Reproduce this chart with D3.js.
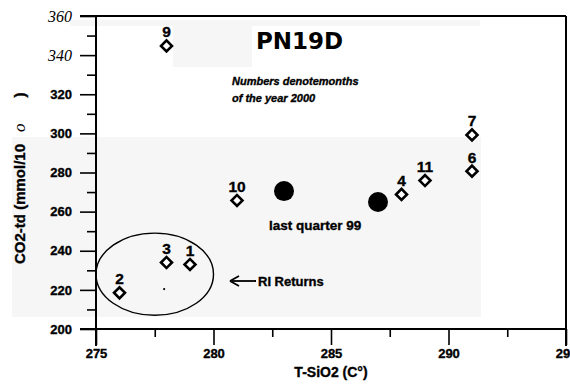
<!DOCTYPE html>
<html>
<head>
<meta charset="utf-8">
<script src="https://cdn.jsdelivr.net/npm/d3@7"></script>
<style>
  html, body { margin: 0; padding: 0; background: #fff; }
  svg { display: block; }
</style>
</head>
<body>
<script>
// Monthly samples of well PN19D in 2000 (month number, T-SiO2, CO2-td)
const months = ["1", "2", "3", "4", "6", "7", "9", "10", "11"];
const tSiO2  = [279, 276, 278, 288, 291, 291, 278, 281, 289];
const co2td  = [233, 218.5, 234, 268.8, 280.7, 299.2, 344.7, 265.7, 275.9];

// Last quarter of 1999
const q99TSiO2 = [283, 287];
const q99CO2   = [270.5, 264.9];

// Axis ticks
const xTicks = [275, 280, 285, 290, 295];
const xMinor = [277.5, 282.5, 287.5, 292.5];
const yTicks = [200, 220, 240, 260, 280, 300, 320, 340, 360];
const yMinor = [210, 230, 250, 270, 290, 310, 330, 350];

const W = 570, H = 389;
const SANS = "'Liberation Sans', Arial, sans-serif";
const SERIF = "'Liberation Serif', 'Times New Roman', serif";

const svg = d3.select("body").append("svg").attr("width", W).attr("height", H)
  .attr("font-family", SANS);

const x = d3.scaleLinear().domain([275, 295]).range([96, 566]);
const y = d3.scaleLinear().domain([200, 360]).range([329, 16]);

// heavier bold text
function heavy(sel) {
  return sel.attr("font-weight", "bold").attr("fill", "#000")
    .attr("stroke", "#000").attr("stroke-width", 0.35);
}

// faint grey paper tone behind parts of the plot
const tone = "#f6f6f6";
svg.append("rect").attr("x", 12).attr("y", 137).attr("width", 469).attr("height", 180).attr("fill", tone);
svg.append("rect").attr("x", 70).attr("y", 20).attr("width", 410).attr("height", 6).attr("fill", tone);
svg.append("rect").attr("x", 173).attr("y", 20).attr("width", 79).attr("height", 47).attr("fill", tone);

// Y axis: major ticks with labels, then minor ticks
const yAxis = svg.append("g").attr("transform", `translate(${x(275)},0)`)
  .call(d3.axisLeft(y).tickValues(yTicks).tickSize(16).tickPadding(8).tickFormat(d3.format("d")));
yAxis.select(".domain").remove();
yAxis.selectAll("line").attr("stroke", "#000").attr("stroke-width", 1.6);
heavy(yAxis.selectAll("text").attr("font-size", 13).attr("font-family", SANS));
yAxis.selectAll("text").filter(d => d >= 340)
  .attr("font-family", SERIF).attr("font-style", "italic").attr("font-weight", "normal")
  .attr("stroke", "none").attr("font-size", 16);

const yMin = svg.append("g").attr("transform", `translate(${x(275)},0)`)
  .call(d3.axisLeft(y).tickValues(yMinor).tickSize(9).tickFormat(""));
yMin.select(".domain").remove();
yMin.selectAll("line").attr("stroke", "#000").attr("stroke-width", 1.6);

// X axis
const xAxis = svg.append("g").attr("transform", `translate(0,${y(200)})`)
  .call(d3.axisBottom(x).tickValues(xTicks).tickSize(16).tickPadding(4).tickFormat(d3.format("d")));
xAxis.select(".domain").remove();
xAxis.selectAll("line").attr("stroke", "#000").attr("stroke-width", 1.6);
heavy(xAxis.selectAll("text").attr("font-size", 13).attr("font-family", SANS));

const xMin = svg.append("g").attr("transform", `translate(0,${y(200)})`)
  .call(d3.axisBottom(x).tickValues(xMinor).tickSize(8).tickFormat(""));
xMin.select(".domain").remove();
xMin.selectAll("line").attr("stroke", "#000").attr("stroke-width", 1.6);

// Frame lines
const frame = svg.append("g").attr("stroke", "#000").attr("stroke-width", 2).attr("fill", "none");
frame.append("line").attr("x1", 80).attr("x2", x(295)).attr("y1", y(360)).attr("y2", y(360));
frame.append("line").attr("x1", 80).attr("x2", x(295)).attr("y1", y(200)).attr("y2", y(200)).attr("stroke-width", 1.8);
frame.append("line").attr("x1", x(275)).attr("x2", x(275)).attr("y1", y(360)).attr("y2", y(200) + 17);
frame.append("line").attr("x1", x(295)).attr("x2", x(295)).attr("y1", y(360)).attr("y2", y(200) + 17);

// Axis titles
heavy(svg.append("text").attr("x", x(285)).attr("y", 377).attr("text-anchor", "middle")
  .attr("font-size", 14)).text("T-SiO2 (C°)");

const yTitle = heavy(svg.append("text").attr("transform", "translate(25,264) rotate(-90)")
  .attr("font-size", 15));
yTitle.append("tspan").text("CO2-td (mmol/10");
yTitle.append("tspan").attr("dx", 12).attr("font-style", "italic").attr("font-weight", "normal")
  .attr("stroke", "none").attr("font-family", SERIF).attr("font-size", 17).text("o");
yTitle.append("tspan").attr("dx", 26).text(")");

// "RI Returns" group outline
svg.append("ellipse").attr("cx", x(277.5)).attr("cy", y(228))
  .attr("rx", x(280) - x(277.5)).attr("ry", y(207) - y(228))
  .attr("fill", "none").attr("stroke", "#000").attr("stroke-width", 1.4);
svg.append("circle").attr("cx", x(277.9)).attr("cy", y(220.4)).attr("r", 1.1).attr("fill", "#000");

// Arrow and label
svg.append("line").attr("x1", 256).attr("x2", 232).attr("y1", 281).attr("y2", 281)
  .attr("stroke", "#000").attr("stroke-width", 1.8);
svg.append("path").attr("d", "M230,281 L239,276 M230,281 L239,286")
  .attr("stroke", "#000").attr("stroke-width", 1.8).attr("fill", "none");
heavy(svg.append("text").attr("x", 258).attr("y", 286).attr("font-size", 13)).text("RI Returns");

// 1999 quarter markers
svg.selectAll("circle.q99").data(q99TSiO2).join("circle").attr("class", "q99")
  .attr("cx", d => x(d)).attr("cy", (d, i) => y(q99CO2[i])).attr("r", 10).attr("fill", "#000");
heavy(svg.append("text").attr("x", 269).attr("y", 230).attr("font-size", 13.5)).text("last quarter 99");

// 2000 monthly diamonds
const pts = months.map((m, i) => ({ m, t: tSiO2[i], c: co2td[i] }));
const diamond = d3.symbol().type(d3.symbolSquare).size(60);
svg.selectAll("path.pt").data(pts).join("path").attr("class", "pt")
  .attr("d", diamond)
  .attr("transform", d => `translate(${x(d.t)},${y(d.c)}) rotate(45)`)
  .attr("fill", "#fff").attr("stroke", "#000").attr("stroke-width", 2.6);
heavy(svg.selectAll("text.lbl").data(pts).join("text").attr("class", "lbl")
  .attr("x", d => x(d.t)).attr("y", d => y(d.c) - 8.5)
  .attr("text-anchor", "middle").attr("font-size", 15.5))
  .text(d => d.m);

// Title and note
svg.append("text").attr("x", 256).attr("y", 49).attr("font-size", 23).attr("font-weight", "bold")
  .attr("font-family", "'DejaVu Sans', sans-serif").text("PN19D");
heavy(svg.append("text").attr("x", 232).attr("y", 85).attr("font-size", 11)
  .attr("font-style", "italic")).text("Numbers denotemonths");
heavy(svg.append("text").attr("x", 232).attr("y", 102).attr("font-size", 11)
  .attr("font-style", "italic")).text("of the year 2000");
</script>
</body>
</html>
